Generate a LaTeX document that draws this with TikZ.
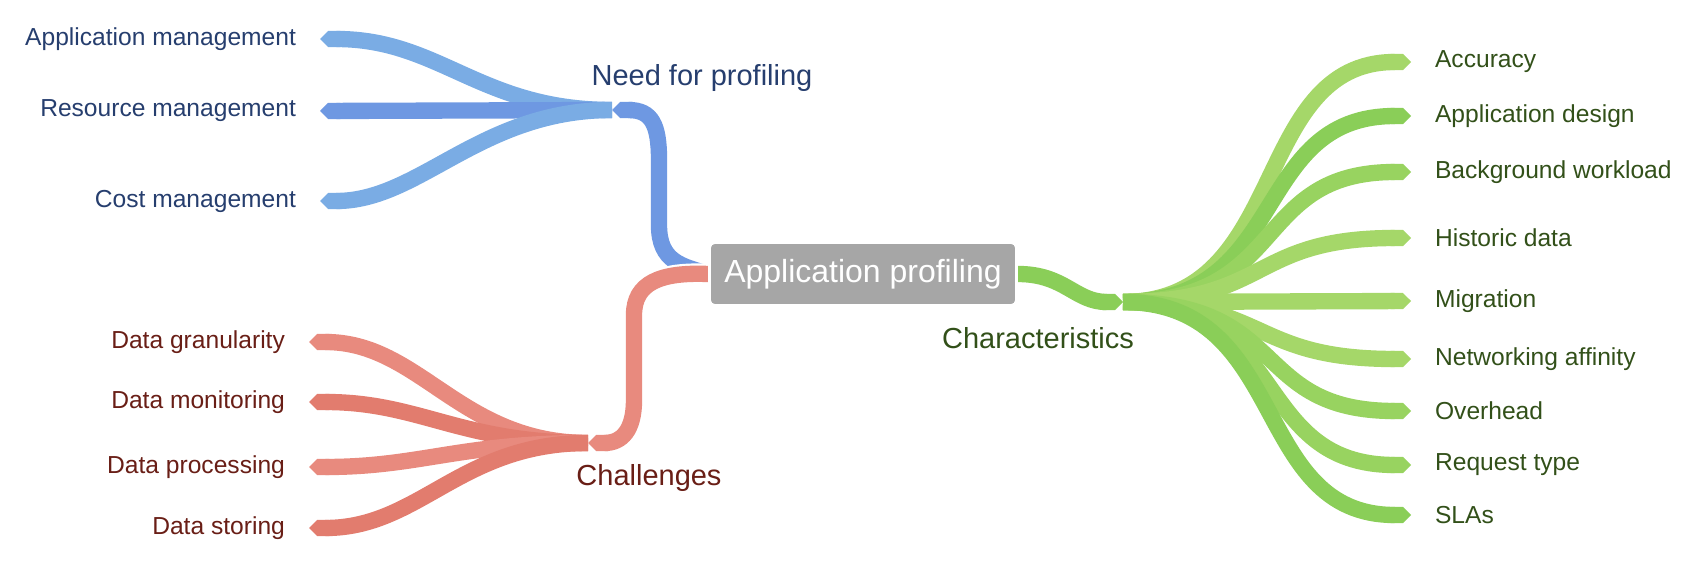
\documentclass[tikz,border=0pt]{standalone}
\usepackage{fontspec}
\setmainfont{Liberation Sans}
\usetikzlibrary{arrows.meta}

\definecolor{blueA}{RGB}{122,172,228}
\definecolor{blueB}{RGB}{110,152,226}
\definecolor{redA}{RGB}{232,138,126}
\definecolor{redB}{RGB}{226,124,110}
\definecolor{greenA}{RGB}{165,215,105}
\definecolor{greenB}{RGB}{138,206,88}
\definecolor{greenC}{RGB}{152,211,96}
\definecolor{hubgray}{RGB}{166,166,166}
\definecolor{bluetxt}{RGB}{38,62,110}
\definecolor{redtxt}{RGB}{105,30,22}
\definecolor{greentxt}{RGB}{50,80,25}

\begin{document}
\begin{tikzpicture}[x=0.02cm, y=-0.02cm,
  band/.style={line width=9.3pt, line cap=butt},
  leaf/.style={band, -{Triangle Cap}},
  trunkin/.style={band, {Triangle Cap}-, preaction={draw=white, line width=11.8pt}},
  trunkout/.style={band, -{Triangle Cap}, preaction={draw=white, line width=11.8pt}},
  ltext/.style={inner xsep=13.5pt, inner ysep=0pt, font=\fontsize{14}{16}\selectfont},
  btext/.style={inner sep=0pt, font=\fontsize{16.5}{19}\selectfont},
  hub/.style={fill=hubgray, draw=white, line width=1.5pt, rounded corners=3pt, text=white,
    minimum width=6.14cm, minimum height=1.26cm, font=\fontsize{18.2}{21}\selectfont}]
  \useasboundingbox (0,0) rectangle (1687,564);

  % branch labels and junctions
  \node[btext, text=bluetxt] (need) at (702,78) {Need for profiling};
  \node[btext, text=redtxt] (chal) at (649,478) {Challenges};
  \node[btext, text=greentxt] (char) at (1038,338) {Characteristics};
  \coordinate (needj) at (612,110);
  \coordinate (chalj) at (588,443);
  \coordinate (charj) at (1123,302);

  % need for profiling
  \node[ltext, text=bluetxt, anchor=east] (appm) at (320,39) {Application management};
  \node[ltext, text=bluetxt, anchor=east] (resm) at (320,111) {Resource management};
  \node[ltext, text=bluetxt, anchor=east] (costm) at (320,201) {Cost management};
  \draw[leaf, blueA] (needj) .. controls (480,110) and (440,39) .. (appm.east);
  \draw[leaf, blueB] (needj) -- (resm.east);
  \draw[leaf, blueA] (needj) .. controls (480,110) and (420,201) .. (costm.east);

  % challenges
  \node[ltext, text=redtxt, anchor=east] (gran) at (309,342) {Data granularity};
  \node[ltext, text=redtxt, anchor=east] (moni) at (309,402) {Data monitoring};
  \node[ltext, text=redtxt, anchor=east] (proc) at (309,467) {Data processing};
  \node[ltext, text=redtxt, anchor=east] (stor) at (309,528) {Data storing};
  \draw[leaf, redA] (chalj) .. controls (460,443) and (420,342) .. (gran.east);
  \draw[leaf, redB] (chalj) .. controls (460,443) and (420,402) .. (moni.east);
  \draw[leaf, redA] (chalj) .. controls (460,443) and (420,467) .. (proc.east);
  \draw[leaf, redB] (chalj) .. controls (460,443) and (420,528) .. (stor.east);

  % characteristics
  \node[ltext, text=greentxt, anchor=west] (accu) at (1411,62) {Accuracy};
  \node[ltext, text=greentxt, anchor=west] (desi) at (1411,116) {Application design};
  \node[ltext, text=greentxt, anchor=west] (back) at (1411,172) {Background workload};
  \node[ltext, text=greentxt, anchor=west] (hist) at (1411,238) {Historic data};
  \node[ltext, text=greentxt, anchor=west] (migr) at (1411,301) {Migration};
  \node[ltext, text=greentxt, anchor=west] (netw) at (1411,359) {Networking affinity};
  \node[ltext, text=greentxt, anchor=west] (over) at (1411,411) {Overhead};
  \node[ltext, text=greentxt, anchor=west] (requ) at (1411,465) {Request type};
  \node[ltext, text=greentxt, anchor=west] (slas) at (1411,515) {SLAs};
  \draw[leaf, greenA] (charj) .. controls (1290,302) and (1250,62) .. (accu.west);
  \draw[leaf, greenB] (charj) .. controls (1290,302) and (1250,116) .. (desi.west);
  \draw[leaf, greenC] (charj) .. controls (1290,302) and (1250,172) .. (back.west);
  \draw[leaf, greenA] (charj) .. controls (1270,302) and (1250,238) .. (hist.west);
  \draw[leaf, greenA] (charj) -- (migr.west);
  \draw[leaf, greenA] (charj) .. controls (1270,302) and (1250,359) .. (netw.west);
  \draw[leaf, greenC] (charj) .. controls (1290,302) and (1250,411) .. (over.west);
  \draw[leaf, greenC] (charj) .. controls (1290,302) and (1250,465) .. (requ.west);
  \draw[leaf, greenB] (charj) .. controls (1290,302) and (1250,515) .. (slas.west);

  % trunks to the centre
  \node[hub] (hub) at (863,274) {Application profiling};
  \draw[trunkin, blueB] (needj) .. controls (652,110) and (659,125) .. (659,160)
    -- (659,225) .. controls (659,262) and (682,266) .. (hub.west);
  \draw[trunkin, redA] (chalj) .. controls (622,443) and (634,430) .. (634,400)
    -- (634,315) .. controls (634,283) and (660,272) .. (hub.west);
  \draw[trunkout, greenB] (hub.east) .. controls (1065,274) and (1075,302) .. (charj);
  \node[hub] at (hub) {Application profiling};
\end{tikzpicture}
\end{document}
